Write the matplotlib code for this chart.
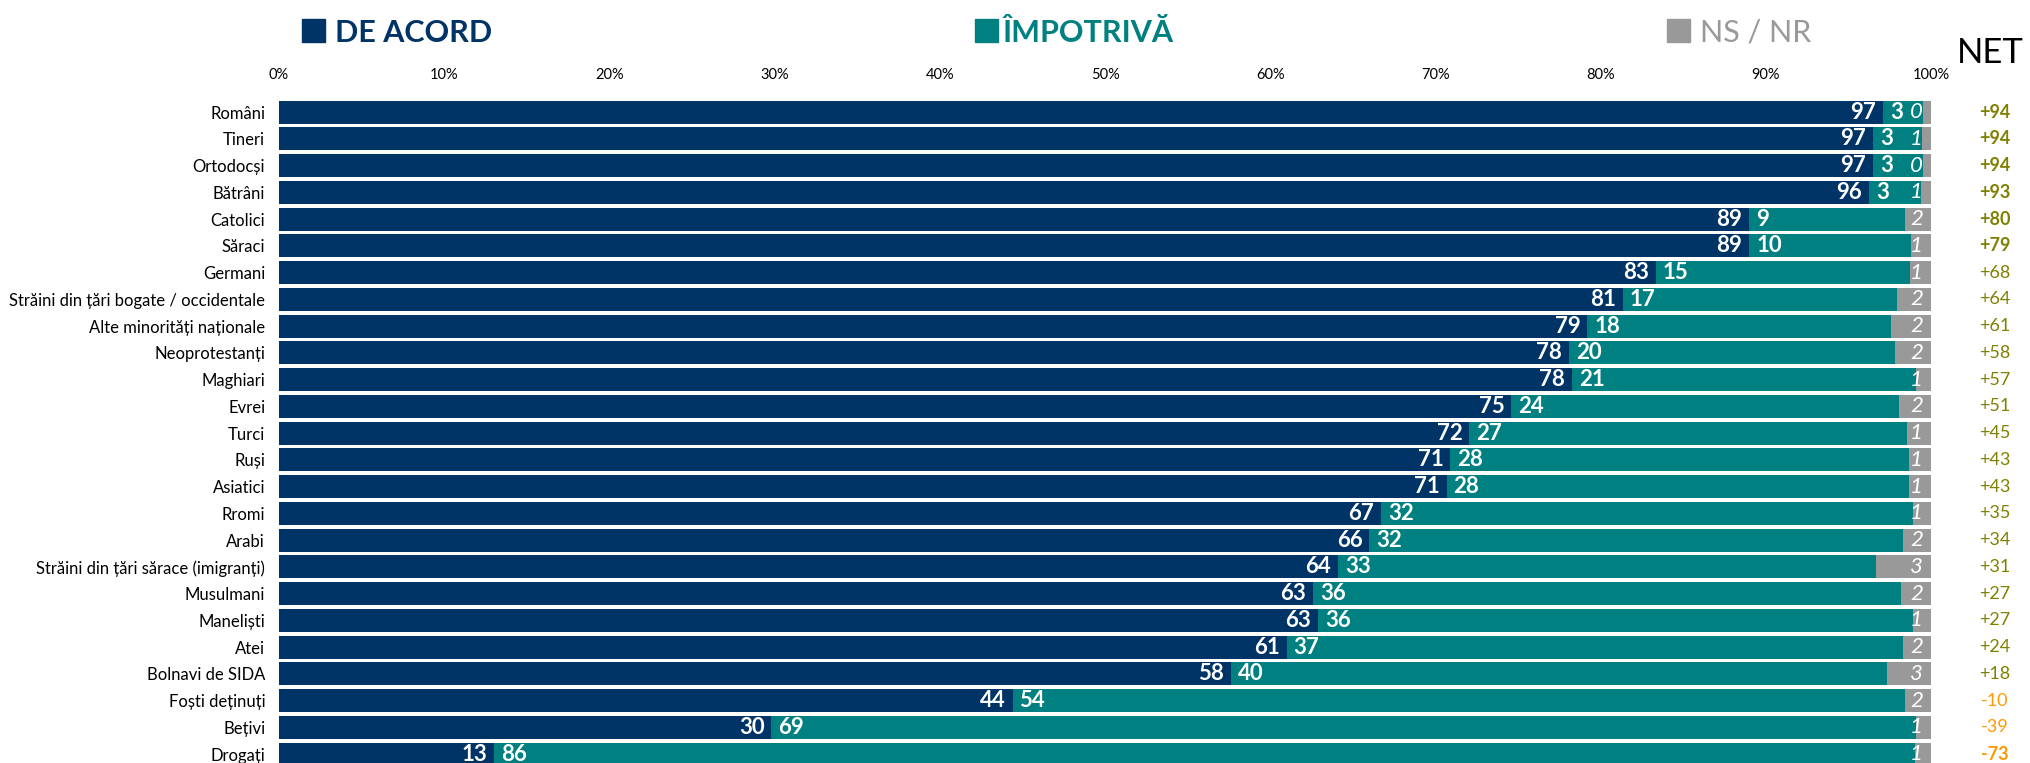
import matplotlib.pyplot as plt
from matplotlib.patches import Rectangle
from matplotlib import transforms

categories = ['Români', 'Tineri', 'Ortodocși', 'Bătrâni', 'Catolici', 'Săraci', 'Germani',
              'Străini din țări bogate / occidentale', 'Alte minorități naționale',
              'Neoprotestanți', 'Maghiari', 'Evrei', 'Turci', 'Ruși', 'Asiatici', 'Rromi',
              'Arabi', 'Străini din țări sărace (imigranți)', 'Musulmani', 'Maneliști', 'Atei',
              'Bolnavi de SIDA', 'Foști deținuți', 'Bețivi', 'Drogați']

# bar widths (unrounded shares)
agree = [97.1, 96.5, 96.5, 96.25, 89.0, 89.0, 83.35, 81.35, 79.2, 78.1, 78.25, 74.6, 72.05,
         70.9, 70.67, 66.7, 66.0, 64.1, 62.6, 62.9, 61.0, 57.6, 44.4, 29.8, 13.0]
against = [2.4, 2.95, 3.0, 3.13, 9.4, 9.8, 15.35, 16.6, 18.4, 19.7, 20.85, 23.46, 26.5,
           27.76, 27.99, 32.2, 32.3, 32.57, 35.58, 36.0, 37.3, 39.74, 54.03, 69.28, 86.0]
nsnr = [0.5, 0.55, 0.5, 0.62, 1.6, 1.2, 1.3, 2.05, 2.4, 2.2, 0.9, 1.94, 1.45, 1.34, 1.34,
        1.1, 1.7, 3.33, 1.82, 1.1, 1.7, 2.66, 1.57, 0.92, 1.0]

# printed labels
agree_lbl = [97, 97, 97, 96, 89, 89, 83, 81, 79, 78, 78, 75, 72, 71, 71, 67, 66, 64, 63, 63,
             61, 58, 44, 30, 13]
against_lbl = [3, 3, 3, 3, 9, 10, 15, 17, 18, 20, 21, 24, 27, 28, 28, 32, 32, 33, 36, 36,
               37, 40, 54, 69, 86]
nsnr_lbl = [0, 1, 0, 1, 2, 1, 1, 2, 2, 2, 1, 2, 1, 1, 1, 1, 2, 3, 2, 1, 2, 3, 2, 1, 1]
net = [94, 94, 94, 93, 80, 79, 68, 64, 61, 58, 57, 51, 45, 43, 43, 35, 34, 31, 27, 27, 24,
       18, -10, -39, -73]
net_bold = [True] * 6 + [False] * 18 + [True]

NAVY = '#003366'
TEAL = '#008080'
GREY = '#999999'
OLIVE = '#808000'
ORANGE = '#FF9900'

plt.rcParams['font.family'] = ['Lato', 'DejaVu Sans']

fig = plt.figure(figsize=(20.31, 7.63), dpi=100)
ax = fig.add_axes([0.1374, -0.0058, 0.8134, 0.8765])

y = list(range(len(categories)))
h = 0.86
left3 = [a + b for a, b in zip(agree, against)]
ax.barh(y, agree, height=h, color=NAVY)
ax.barh(y, against, left=agree, height=h, color=TEAL)
ax.barh(y, nsnr, left=left3, height=h, color=GREY)

# NET column sits right of the plot: x in figure coords, y in data coords
net_trans = transforms.blended_transform_factory(fig.transFigure, ax.transData)

for i in y:
    ax.annotate(str(agree_lbl[i]), (agree[i], i), xytext=(-5, 0), textcoords='offset points',
                ha='right', va='center', color='white', fontsize=16, fontweight='bold')
    ax.annotate(str(against_lbl[i]), (agree[i], i), xytext=(5, 0), textcoords='offset points',
                ha='left', va='center', color='white', fontsize=16, fontweight='bold')
    ax.annotate(str(nsnr_lbl[i]), (100, i), xytext=(-6, 0), textcoords='offset points',
                ha='right', va='center', color='white', fontsize=16, fontstyle='italic')
    v = net[i]
    ax.text(0.982, i, ('+%d' % v) if v > 0 else str(v), transform=net_trans,
            ha='center', va='center', fontsize=13,
            color=OLIVE if v > 0 else ORANGE,
            fontweight='bold' if net_bold[i] else 'normal')

ax.set_xlim(0, 100)
ax.set_ylim(len(categories) - 0.5, -0.5)
ax.set_yticks(y)
ax.set_yticklabels(categories, fontsize=12)
ax.set_xticks(range(0, 101, 10))
ax.set_xticklabels(['%d%%' % t for t in range(0, 101, 10)], fontsize=10.5)
ax.tick_params(axis='x', top=True, labeltop=True, bottom=False, labelbottom=False,
               length=0, pad=12)
ax.tick_params(axis='y', length=0, pad=10)
for s in ax.spines.values():
    s.set_visible(False)

# legend header
heads = [('DE ACORD', NAVY, 'bold', 0.1487, 0.165),
         ('ÎMPOTRIVĂ', TEAL, 'bold', 0.4800, 0.4938),
         ('NS / NR', GREY, 'normal', 0.8208, 0.8370)]
for label, col, w, sx, tx in heads:
    fig.patches.append(Rectangle((sx, 0.945), 0.0113, 0.030, transform=fig.transFigure,
                                 color=col, figure=fig))
    fig.text(tx, 0.945, label, color=col, fontsize=22, fontweight=w, va='baseline')
fig.text(0.980, 0.918, 'NET', fontsize=25, ha='center', va='baseline', color='black')

fig.savefig('out.png', dpi=100)
